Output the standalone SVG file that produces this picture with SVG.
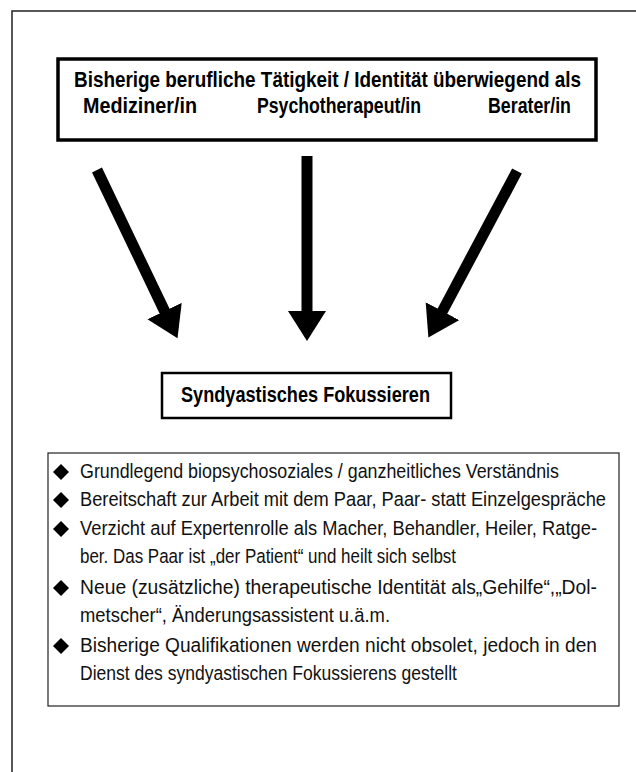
<svg xmlns="http://www.w3.org/2000/svg" width="636" height="772" viewBox="0 0 636 772">
<style>
.frame{fill:none;stroke:#222;stroke-width:1.5}
.hdr{font-family:"Liberation Sans",Arial,sans-serif;font-weight:bold;font-size:22px;fill:#000}
.lst{font-family:"Liberation Sans",Arial,sans-serif;font-size:19.5px;fill:#111}
.arrow{stroke:#000;stroke-width:11;fill:none;marker-end:url(#head)}
</style>
<defs>
<marker id="head" markerUnits="userSpaceOnUse" markerWidth="32" markerHeight="40" refX="1" refY="19" orient="auto" viewBox="0 0 32 40">
<path d="M0,0 L30,19 L0,38 z" fill="#000"/>
</marker>
<path id="dia" d="M0,-8 L8,0 L0,8 L-8,0 z" fill="#000"/>
</defs>
<rect width="636" height="772" fill="#fff"/>
<g id="outer-frame">
<path class="frame" d="M12,772 L12,11 L636,11"/>
</g>
<g id="node-origin">
<rect x="58" y="59" width="538" height="81" fill="#fff" stroke="#000" stroke-width="3.5"/>
<text class="hdr" transform="translate(74,87) scale(0.86,1)" textLength="589.5" lengthAdjust="spacingAndGlyphs">Bisherige berufliche Tätigkeit / Identität überwiegend als</text>
<text class="hdr" transform="translate(83,113) scale(0.86,1)" textLength="132.6" lengthAdjust="spacingAndGlyphs">Mediziner/in</text>
<text class="hdr" transform="translate(257,113) scale(0.86,1)" textLength="190.7" lengthAdjust="spacingAndGlyphs">Psychotherapeut/in</text>
<text class="hdr" transform="translate(488,113) scale(0.86,1)" textLength="96.5" lengthAdjust="spacingAndGlyphs">Berater/in</text>
</g>
<g id="connectors">
<line class="arrow" x1="97" y1="170" x2="165" y2="312"/>
<line class="arrow" x1="307" y1="156" x2="307" y2="312"/>
<line class="arrow" x1="517" y1="171" x2="442" y2="312"/>
</g>
<g id="node-focus">
<rect x="162" y="373" width="289" height="45" fill="#fff" stroke="#000" stroke-width="2.5"/>
<text class="hdr" transform="translate(181,402) scale(0.86,1)" textLength="289.5" lengthAdjust="spacingAndGlyphs">Syndyastisches Fokussieren</text>
</g>
<g id="node-list">
<rect x="48" y="453" width="571" height="253" fill="#fff" stroke="#222" stroke-width="1.2"/>
<use href="#dia" x="61" y="472"/>
<use href="#dia" x="61" y="500"/>
<use href="#dia" x="61" y="529"/>
<use href="#dia" x="61" y="588"/>
<use href="#dia" x="61" y="646"/>
<text class="lst" transform="translate(80,478) scale(0.88,1)" textLength="544.3" lengthAdjust="spacingAndGlyphs">Grundlegend biopsychosoziales / ganzheitliches Verständnis</text>
<text class="lst" transform="translate(80,506) scale(0.88,1)" textLength="597.7" lengthAdjust="spacingAndGlyphs">Bereitschaft zur Arbeit mit dem Paar, Paar- statt Einzelgespräche</text>
<text class="lst" transform="translate(80,535) scale(0.88,1)" textLength="587.5" lengthAdjust="spacingAndGlyphs">Verzicht auf Expertenrolle als Macher, Behandler, Heiler, Ratge-</text>
<text class="lst" transform="translate(80,563) scale(0.88,1)" textLength="427.3" lengthAdjust="spacingAndGlyphs">ber. Das Paar ist „der Patient“ und heilt sich selbst</text>
<text class="lst" transform="translate(80,594) scale(0.88,1)" textLength="587.5" lengthAdjust="spacingAndGlyphs">Neue (zusätzliche) therapeutische Identität als„Gehilfe“,„Dol-</text>
<text class="lst" transform="translate(80,622) scale(0.88,1)" textLength="352.3" lengthAdjust="spacingAndGlyphs">metscher“, Änderungsassistent u.ä.m.</text>
<text class="lst" transform="translate(80,652) scale(0.88,1)" textLength="587.5" lengthAdjust="spacingAndGlyphs">Bisherige Qualifikationen werden nicht obsolet, jedoch in den</text>
<text class="lst" transform="translate(80,680) scale(0.88,1)" textLength="428.4" lengthAdjust="spacingAndGlyphs">Dienst des syndyastischen Fokussierens gestellt</text>
</g>
</svg>
